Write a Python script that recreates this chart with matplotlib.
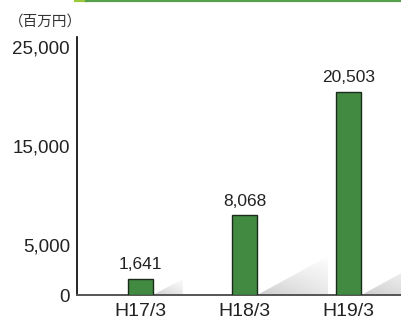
import numpy as np
import matplotlib
matplotlib.use("Agg")
import matplotlib.pyplot as plt
from matplotlib.patches import Polygon

plt.rcParams['font.family'] = ['Liberation Sans', 'DejaVu Sans']

categories = ['H17/3', 'H18/3', 'H19/3']
values = [1641, 8068, 20503]
value_labels = ['1,641', '8,068', '20,503']
y_ticks = [0, 5000, 15000, 25000]
y_tick_labels = ['0', '5,000', '15,000', '25,000']
unit_label = '（百万円）'

bar_color = '#428a42'
edge_color = '#1c2a1c'

fig = plt.figure(figsize=(4.02, 3.22), dpi=100)
ax = fig.add_axes([77 / 402, 1 - 295 / 322, 1 - 77 / 402, (295 - 37) / 322])

x = np.arange(len(categories))
bar_w = 0.24

# soft shadow wedges to the right of the bars
for xi, v in zip(x, values):
    xr = xi + bar_w / 2
    dy = min(v, 3900)
    dx = 0.68 * dy / 3900
    poly = Polygon([(xr, 0), (xr + dx, dy), (xr + dx, 0)],
                   closed=True, facecolor='none', edgecolor='none')
    ax.add_patch(poly)
    u = np.linspace(0, 1, 80)[None, :]
    w = np.linspace(0, 1, 60)[:, None]
    alpha = 0.34 * (1 - w) ** 0.8 * (1 - 0.55 * u)
    rgba = np.zeros((60, 80, 4))
    rgba[..., :3] = 0.42
    rgba[..., 3] = alpha
    im = ax.imshow(rgba, extent=[xr, xr + dx, 0, dy], origin='lower',
                   aspect='auto', interpolation='bilinear', zorder=1)
    im.set_clip_path(poly)

ax.bar(x, values, width=bar_w, color=bar_color, edgecolor=edge_color,
       linewidth=1.0, zorder=3)

for xi, v, lab in zip(x, values, value_labels):
    ax.annotate(lab, (xi, v), xytext=(0, 4.5), textcoords='offset points',
                ha='center', va='bottom', fontsize=12.5, color='#222222')

ax.set_xlim(-0.61, 2.51)
ax.set_ylim(0, 26000)
ax.set_xticks(x)
ax.set_xticklabels(categories, fontsize=14, color='#222222')
ax.set_yticks(y_ticks)
ax.set_yticklabels(y_tick_labels, fontsize=13.5, color='#222222')
ax.tick_params(axis='both', length=0)
ax.tick_params(axis='x', pad=5.5)
ax.tick_params(axis='y', pad=5)

for s in ['top', 'right']:
    ax.spines[s].set_visible(False)
ax.spines['left'].set_color('black')
ax.spines['left'].set_linewidth(1.2)
ax.spines['bottom'].set_color('#555555')
ax.spines['bottom'].set_linewidth(1.4)
ax.set_zorder(2)

fig.text(45 / 402, 1 - 22 / 322, unit_label, ha='center', va='center',
         fontsize=10.5, color='#333333',
         family=['Noto Sans CJK JP', 'DejaVu Sans'])

# green rule at top
fig.add_artist(plt.Line2D([75 / 402, 86 / 402], [1 - 1 / 322, 1 - 1 / 322],
                          color='#9cc83c', linewidth=1.6))
fig.add_artist(plt.Line2D([86 / 402, 1.0], [1 - 1 / 322, 1 - 1 / 322],
                          color='#55a04a', linewidth=1.6))

fig.savefig('out.png', dpi=100)
